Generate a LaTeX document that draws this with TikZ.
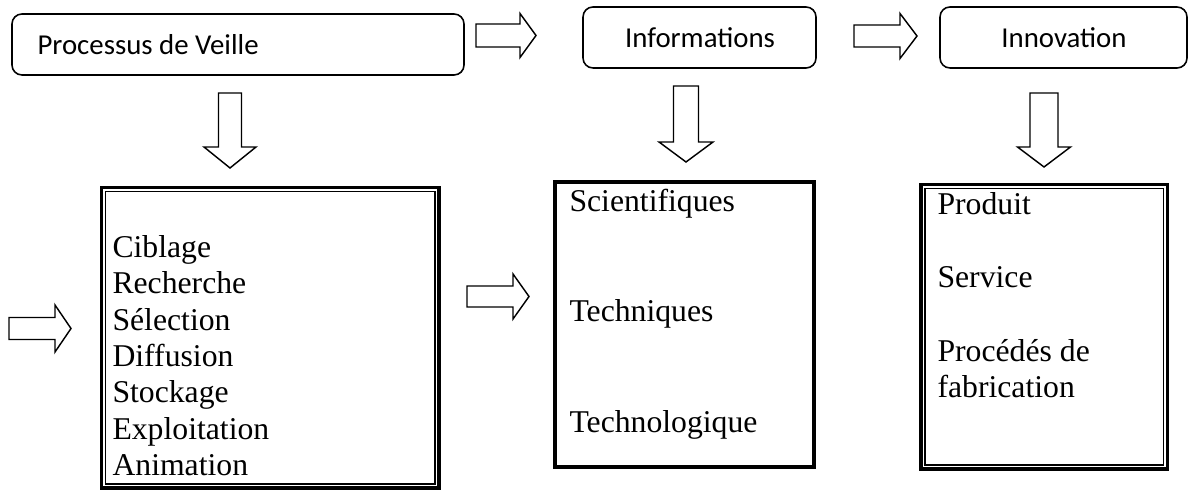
\documentclass[tikz,border=0pt]{standalone}
\usepackage{fontspec}
\setmainfont{Liberation Serif}
\newfontfamily\calib{Carlito}
\begin{document}
\begin{tikzpicture}[x=0.3817pt,y=-0.3817pt,
  rbox/.style={draw,line width=0.6pt,rounded corners=3.8pt},
  arr/.style={draw,line width=0.55pt,line join=miter,fill=white},
  thickbox/.style={draw,line width=1.3pt},
  thinbox/.style={draw,line width=0.4pt},
  lbl/.style={inner sep=0pt,anchor=base,font=\calib\fontsize{11}{13}\selectfont},
  item/.style={inner sep=0pt,anchor=base west,font=\fontsize{12.1}{14}\selectfont}]
\useasboundingbox (0,0) rectangle (1192,491);
\newcommand\rarrow[6]{%
  \draw[arr] (#1,#4-#5) -- (#2,#4-#5) -- (#2,#4-#6) -- (#3,#4) -- (#2,#4+#6) -- (#2,#4+#5) -- (#1,#4+#5) -- cycle;}
\newcommand\darrow[6]{%
  \draw[arr] (#1-#5,#2) -- (#1-#5,#3) -- (#1-#6,#3) -- (#1,#4) -- (#1+#6,#3) -- (#1+#5,#3) -- (#1+#5,#2) -- cycle;}
% top row boxes
\draw[rbox] (12,14) rectangle (464,75);
\node[lbl,anchor=base west] (pv) at (37,55) {Processus de Veille};
\draw[rbox] (583,7) rectangle (816,68);
\node[lbl] (inf) at (700,48) {Informations};
\draw[rbox] (940,7) rectangle (1187,68);
\node[lbl] (inn) at (1064,48) {Innovation};
% horizontal arrows
\rarrow{476}{520}{536}{35.5}{11.5}{22}
\rarrow{854}{900}{917}{36}{11}{22.5}
\rarrow{9}{55}{71}{328.5}{11}{23.5}
\rarrow{467}{513}{529}{296.5}{10.5}{22.5}
% down arrows
\darrow{230}{93}{147}{168}{11.5}{26}
\darrow{686}{86}{142}{162}{12.5}{27}
\darrow{1044}{93}{147}{167}{14}{26.5}
% list box 1 (double line)
\draw[thickbox] (101.5,187.5) rectangle (439,488);
\draw[thinbox] (105.5,191.5) rectangle (435,484);
\node[item] (c1) at (112,258) {Ciblage};
\node[item] (c2) at (112,294) {Recherche};
\node[item] (c3) at (112,331) {Sélection};
\node[item] (c4) at (112,367) {Diffusion};
\node[item] (c5) at (112,403) {Stockage};
\node[item] (c6) at (112,439) {Exploitation};
\node[item] (c7) at (112,475) {Animation};
% list box 2 (thick single)
\draw[draw,line width=1.5pt] (555,182) rectangle (814,467);
\node[item] (s1) at (569,212) {Scientifiques};
\node[item] (s2) at (569,322) {Techniques};
\node[item] (s3) at (569,432) {Technologique};
% list box 3 (double line)
\draw[thickbox] (921,184.5) rectangle (1167.5,469);
\draw[thinbox] (925,188.5) rectangle (1163.5,465);
\node[item] (p1) at (937,215) {Produit};
\node[item] (p2) at (937,288) {Service};
\node[item] (p3) at (937,362) {Procédés de};
\node[item] (p4) at (937,398) {fabrication};
\end{tikzpicture}
\end{document}
